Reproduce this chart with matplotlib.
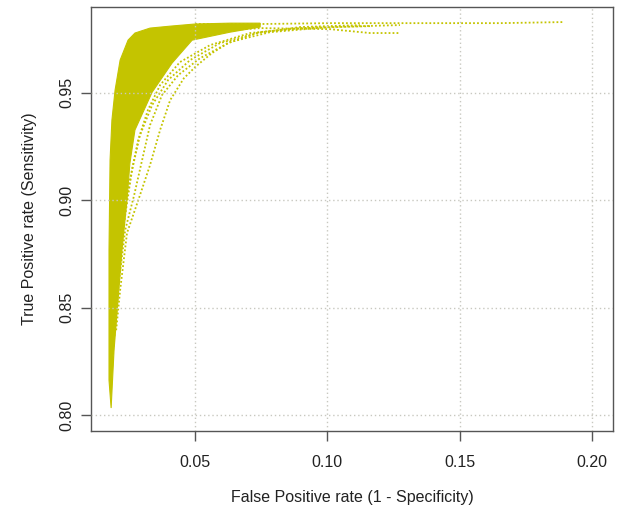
import matplotlib
matplotlib.use("Agg")
import matplotlib.pyplot as plt

plt.rcParams['font.family'] = ['Liberation Sans', 'DejaVu Sans']

# dense core of the bootstrap ROC band: upper-left edge, then lower-right edge
core_left_fpr = [0.0183, 0.0175, 0.0175, 0.0179, 0.0186, 0.0198, 0.0217, 0.0247,
                 0.0273, 0.0330, 0.0406, 0.0500, 0.0632, 0.0746]
core_left_tpr = [0.8033, 0.8163, 0.8767, 0.9186, 0.9372, 0.9512, 0.9651, 0.9744,
                 0.9777, 0.9800, 0.9809, 0.9819, 0.9823, 0.9823]
core_right_fpr = [0.0746, 0.0632, 0.0489, 0.0413, 0.0338, 0.0273, 0.0254, 0.0243,
                  0.0224, 0.0209, 0.0194, 0.0183]
core_right_tpr = [0.9805, 0.9781, 0.9744, 0.9637, 0.9502, 0.9326, 0.9172, 0.9000,
                  0.8767, 0.8535, 0.8302, 0.8033]

# sparser individual curves on the right of the band
curve_a_fpr = [0.0202, 0.0217, 0.0243, 0.0292, 0.0330, 0.0368, 0.0406, 0.0458,
               0.0504, 0.0564, 0.0625, 0.0734, 0.0897, 0.1123]
curve_a_tpr = [0.8395, 0.8581, 0.8847, 0.9023, 0.9163, 0.9326, 0.9465, 0.9567,
               0.9623, 0.9684, 0.9730, 0.9777, 0.9805, 0.9814]
curve_b_fpr = [0.0194, 0.0213, 0.0236, 0.0270, 0.0300, 0.0330, 0.0375, 0.0436,
               0.0519, 0.0632, 0.0783, 0.1010, 0.1274]
curve_b_tpr = [0.8349, 0.8628, 0.8860, 0.9023, 0.9186, 0.9349, 0.9488, 0.9581,
               0.9660, 0.9735, 0.9781, 0.9805, 0.9814]
curve_c_fpr = [0.0190, 0.0209, 0.0228, 0.0254, 0.0285, 0.0322, 0.0368, 0.0443,
               0.0557, 0.0708, 0.0897, 0.1161]
curve_c_tpr = [0.8302, 0.8674, 0.8907, 0.9093, 0.9279, 0.9419, 0.9535, 0.9642,
               0.9721, 0.9777, 0.9800, 0.9809]
curve_f_fpr = [0.0186, 0.0202, 0.0217, 0.0239, 0.0262, 0.0292, 0.0338, 0.0398,
               0.0481, 0.0594, 0.0746, 0.0972]
curve_f_tpr = [0.8209, 0.8535, 0.8767, 0.8953, 0.9140, 0.9302, 0.9442, 0.9558,
               0.9651, 0.9730, 0.9781, 0.9805]
curve_d_fpr = [0.0500, 0.0746, 0.1010, 0.1274, 0.1652, 0.1890]
curve_d_tpr = [0.9819, 0.9819, 0.9823, 0.9823, 0.9823, 0.9828]
curve_e_fpr = [0.0632, 0.0746, 0.1010, 0.1161, 0.1274]
curve_e_tpr = [0.9790, 0.9800, 0.9795, 0.9777, 0.9777]

x_ticks = [0.05, 0.10, 0.15, 0.20]
y_ticks = [0.80, 0.85, 0.90, 0.95]

col = '#c4c400'

fig = plt.figure(figsize=(6.17, 5.09), dpi=100)
ax = fig.add_axes([0.1475, 0.1532, 0.846, 0.833])

ax.fill(core_left_fpr + core_right_fpr, core_left_tpr + core_right_tpr,
        color=col, lw=0.8, zorder=2)
for fx, ty in [(curve_a_fpr, curve_a_tpr), (curve_b_fpr, curve_b_tpr),
               (curve_c_fpr, curve_c_tpr), (curve_f_fpr, curve_f_tpr),
               (curve_d_fpr, curve_d_tpr), (curve_e_fpr, curve_e_tpr)]:
    ax.plot(fx, ty, color=col, lw=1.3, ls=(0, (1, 1.2)), zorder=2)

ax.set_xlim(0.0107, 0.2079)
ax.set_ylim(0.7926, 0.9898)
ax.set_xticks(x_ticks)
ax.set_yticks(y_ticks)
ax.set_xticklabels(['%.2f' % v for v in x_ticks])
ax.set_yticklabels(['%.2f' % v for v in y_ticks], rotation=90, va='center')
ax.grid(True, color='#c8c8c0', ls=(0, (1, 2)), lw=1.0, zorder=5)
ax.set_axisbelow(False)

for s in ax.spines.values():
    s.set_color('#555555')
    s.set_linewidth(1.0)
ax.tick_params(direction='out', length=7, width=1.0, color='#555555',
               labelsize=11.5, labelcolor='#222222')
ax.tick_params(axis='x', pad=10)
ax.tick_params(axis='y', pad=5)

ax.set_xlabel('False Positive rate (1 - Specificity)', fontsize=11.5,
              color='#222222', labelpad=15)
ax.set_ylabel('True Positive rate (Sensitivity)', fontsize=11.5,
              color='#222222', labelpad=16)

fig.savefig('out.png', dpi=100)
